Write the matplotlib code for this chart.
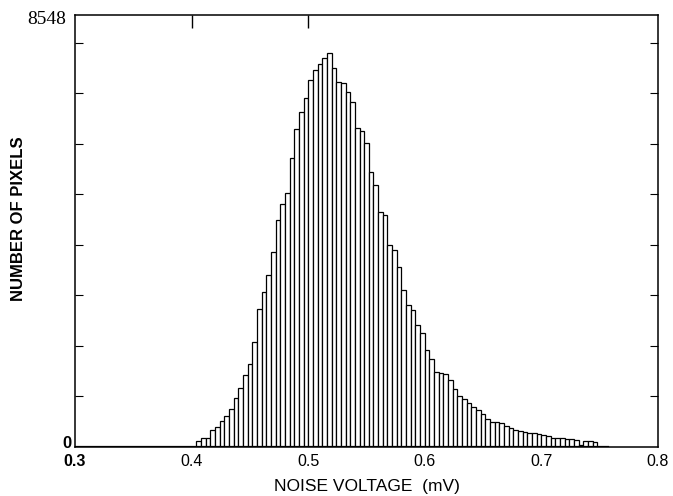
import numpy as np
import matplotlib
matplotlib.use("Agg")
import matplotlib.pyplot as plt

# histogram of noise voltage, 0.004 mV bins starting at 0.404 mV
bin_start = 0.404
bin_width = 0.004
counts = [
    120, 180, 180, 330, 400, 515, 620, 760, 970, 1168,
    1425, 1650, 2078, 2740, 3067, 3400, 3860, 4500, 4800, 5027,
    5719, 6300, 6630, 6900, 7263, 7450, 7580, 7700, 7800, 7500,
    7224, 7200, 7025, 6827, 6313, 6250, 6016, 5442, 5185, 4651,
    4600, 4000, 3899, 3560, 3107, 2810, 2711, 2414, 2256, 1920,
    1750, 1484, 1464, 1450, 1326, 1150, 1000, 950, 871, 792,
    732, 650, 560, 500, 490, 475, 420, 370, 340, 320,
    290, 277, 270, 257, 240, 210, 185, 178, 175, 165,
    158, 130, 40, 119, 110, 90,
]
x_ticks = [0.3, 0.4, 0.5, 0.6, 0.7, 0.8]
x_ticklabels = ["0.3", "0.4", "0.5", "0.6", "0.7", "0.8"]
y_max = 8548
y_minor = [1000, 2000, 3000, 4000, 5000, 6000, 7000, 8000]

edges = bin_start + bin_width * np.arange(len(counts))

fig = plt.figure(figsize=(6.73, 4.96), dpi=100)
ax = fig.add_axes([75/673, 1-447/496, (658-75)/673, (447-15)/496])

ax.bar(edges, counts, width=bin_width, align='edge', color='white',
       edgecolor='black', linewidth=0.9)
# baseline of the histogram
ax.plot([0.3, 0.757], [0, 0], color='black', lw=1.6)

ax.set_xlim(0.3, 0.8)
ax.set_ylim(0, y_max)
for s in ax.spines.values():
    s.set_linewidth(1.1)

ax.set_xticks(x_ticks)
ax.set_xticklabels(x_ticklabels, fontfamily='Liberation Sans', fontsize=11.5)
ax.get_xticklabels()[0].set_fontweight('bold')
ax.tick_params(axis='x', length=0, pad=5)
ax.set_yticks(y_minor)
ax.set_yticklabels([])
ax.tick_params(axis='y', direction='in', length=6, width=0.8, right=True)

# top ticks at 0.4 and 0.5
sec = ax.secondary_xaxis('top')
sec.set_xticks([0.4, 0.5])
sec.set_xticklabels([])
sec.tick_params(direction='in', length=9, width=1.0)
sec.spines['top'].set_visible(False)

fig.text(47/673, 1-19/496, "8548", fontfamily='Liberation Serif', fontsize=14,
         ha='center', va='center')
fig.text(67/673, 1-443/496, "0", fontfamily='Liberation Sans', fontsize=12,
         fontweight='bold', ha='center', va='center')

ax.set_xlabel("NOISE VOLTAGE  (mV)", fontfamily='Liberation Sans', fontsize=12.5,
              labelpad=7)
fig.text(18.5/673, 1-219/496, "NUMBER OF PIXELS", fontfamily='Liberation Sans',
         fontsize=12, fontweight='bold', rotation=90, ha='center', va='center')

fig.savefig("out.png", dpi=100)
